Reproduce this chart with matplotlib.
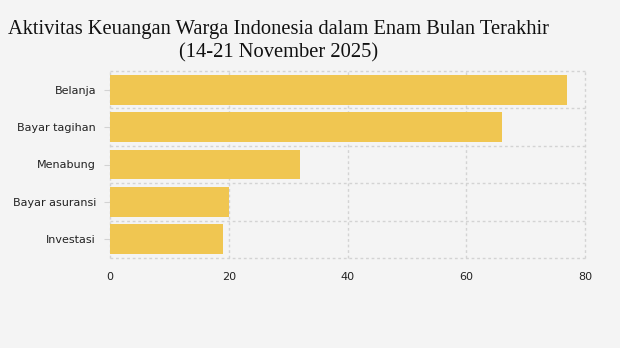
import matplotlib.pyplot as plt
import numpy as np

CATEGORIES = ["Belanja", "Bayar tagihan", "Menabung", "Bayar asuransi", "Investasi"]
VALUES = [77, 66, 32, 20, 19]
X_TICKS = [0, 20, 40, 60, 80]

BG = "#f4f4f4"
BAR_COLOR = "#f0c651"
GRID_COLOR = "#d3d3d3"


def main():
    fig = plt.figure(figsize=(6.2, 3.48), dpi=100, facecolor=BG)
    ax = fig.add_axes([110 / 620, 1 - 258 / 348, 475 / 620, 187 / 348])
    ax.set_facecolor(BG)

    y = np.arange(len(CATEGORIES))
    ax.barh(y, VALUES, height=0.8, color=BAR_COLOR, zorder=3)
    ax.set_ylim(len(CATEGORIES) - 0.5, -0.5)
    ax.set_xlim(0, 80)

    ax.set_yticks(y)
    ax.set_yticklabels(CATEGORIES, fontsize=8, color="#222222")
    ax.set_xticks(X_TICKS)
    ax.set_xticklabels([str(t) for t in X_TICKS], fontsize=8, color="#222222")
    ax.tick_params(axis="y", length=4, color=GRID_COLOR, pad=6)
    ax.tick_params(axis="x", length=0, pad=10)

    # grid: vertical at ticks, horizontal at category boundaries
    for t in X_TICKS:
        ax.axvline(t, color=GRID_COLOR, linestyle=(0, (2, 2)), linewidth=1,
                   zorder=1, clip_on=False)
    for b in np.arange(-0.5, len(CATEGORIES), 1.0):
        ax.axhline(b, color=GRID_COLOR, linestyle=(0, (2, 2)), linewidth=1,
                   zorder=1, clip_on=False)

    for spine in ax.spines.values():
        spine.set_visible(False)

    fig.text(279 / 620, 1 - 20 / 348,
             "Aktivitas Keuangan Warga Indonesia dalam Enam Bulan Terakhir\n(14-21 November 2025)",
             ha="center", va="top", multialignment="center",
             fontsize=14.8, family="Liberation Serif", color="#111111", linespacing=1.3)

    fig.savefig("out.png", dpi=100, facecolor=BG)


if __name__ == "__main__":
    main()
